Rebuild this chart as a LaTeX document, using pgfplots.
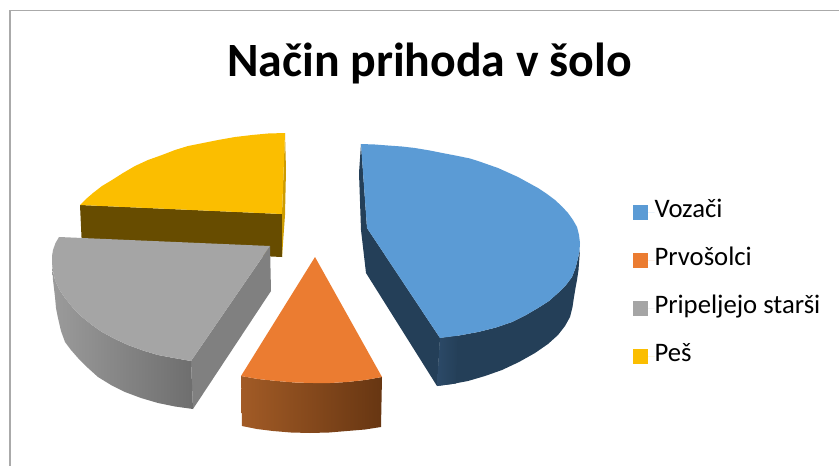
\documentclass[border=0pt]{standalone}
\usepackage{pgfplots}
\pgfplotsset{compat=1.18}
\usepackage{fontspec}
\setmainfont{Carlito}
\definecolor{cblue}{HTML}{5B9BD5}
\definecolor{cblued}{HTML}{243F58}
\definecolor{corange}{HTML}{EB7C31}
\definecolor{cgray}{HTML}{A5A5A5}
\definecolor{cgrayd}{HTML}{808080}
\definecolor{cyellowb}{HTML}{FBBE00}
\definecolor{cyellowd}{HTML}{674C00}
\begin{document}
\begin{tikzpicture}
\begin{axis}[
  width=839pt,height=466pt,scale only axis,
  xmin=0,xmax=839,ymin=0,ymax=466,y dir=reverse,
  hide axis,clip=true,
  legend image code/.code={\fill[#1,draw=none] (0pt,-7.5pt) rectangle (15pt,7.5pt);\path (0pt,0pt) -- (21.5pt,0pt);},
  legend cell align=left,
  legend style={at={(axis cs:633,200)},anchor=north west,draw=none,fill=none,
    font=\fontsize{26.7}{26.7}\selectfont,inner sep=0pt,outer sep=0pt,row sep=24pt,
    nodes={inner sep=0pt,outer sep=0pt,text height=17pt,text depth=7pt}},
]
\path (axis cs:0,0) rectangle (axis cs:839,466);
% frame
\addplot[forget plot,draw={rgb,255:red,170;green,170;blue,170},line width=1.3pt] coordinates {(10,466)(10,10.5)(839,10.5)};
% yellow sides
\addplot[forget plot,fill=cyellowd,draw=none] coordinates {(80,205)(282,214)(282,257)(82,248)} -- cycle;
\addplot[forget plot,fill={rgb,255:red,205;green,155;blue,0},draw=none] coordinates {(285,133)(286,170)(285,215)(282,257)(282,214)} -- cycle;
% blue sides
\addplot[forget plot,fill=cblued,draw=none] coordinates {(361,144)(359,173)(361,230)(366,273)(437,386)(440,338)(367,228)} -- cycle;
\addplot[forget plot,fill=cblued,draw=none] coordinates {(437,386)(452,384)(468,381)(485,376)(502,370)(519,362)(535,353)(548,344)(558,335)(565,326)(570,317)(572.5,307)(574,297)(575.5,288)(577,280)(578.5,270)(580,250)(578,258)(575.5,268)(572,277)(566,285)(558,293)(549,301)(538,308)(526,315)(512,322)(496,327.5)(478,332)(459,335.5)(440,338)} -- cycle;
\addplot[forget plot,left color={rgb,255:red,44;green,74;blue,104},right color=cblued,draw=none] coordinates {(437,386)(456,383.5)(458,335.5)(440,338)} -- cycle;
% blue top
\addplot[fill=cblue,draw=none] coordinates {(361,144)(375,144.5)(388,145.5)(402,146.5)(415,148)(430,150.5)(445,153.5)(458,156)(470,158.5)(478,161)(488,164.5)(498,168)(508,172.5)(518,177)(528,182.5)(538,188)(547,194)(555,200)(562,206.5)(568,213)(573,220)(577,227)(579,235)(580,243)(579.5,251)(578,258)(575.5,268)(572,277)(566,285)(558,293)(549,301)(538,308)(526,315)(512,322)(496,327.5)(478,332)(459,335.5)(440,338)(367,228)} -- cycle;
\addlegendentry{Vozači}
% orange side
\addplot[forget plot,left color={rgb,255:red,162;green,91;blue,38},right color={rgb,255:red,103;green,54;blue,18},draw=none] coordinates {(241,376)(242,426)(257,429)(273,431)(291,432.5)(310,433)(329,432.5)(347,431)(365,429.5)(381,427)(382,377)(365,380)(347,382)(330,383)(313,383)(295,382.5)(277,381)(258,379)} -- cycle;
% orange top
\addplot[fill=corange,draw=none] coordinates {(315,257)(382,377)(365,380)(347,382)(330,383)(313,383)(295,382.5)(277,381)(258,379)(241,376)} -- cycle;
\addlegendentry{Prvošolci}
% gray sides
\addplot[forget plot,fill=cgrayd,draw=none] coordinates {(270,246)(271,291)(193,409)(191,361)} -- cycle;
\addplot[forget plot,left color={rgb,255:red,155;green,155;blue,155},right color={rgb,255:red,110;green,110;blue,110},draw=none] coordinates {(52,263)(53,280)(55,297)(56,308)(58,318)(61,331)(65,342)(71,350)(78,358)(88,368)(98,377)(111,385)(125,392)(141,398)(158,403)(175,406.5)(193,409)(191,361)(174,358)(158,355)(143,350.5)(128,345)(115,339)(102,332)(92,325)(82,317)(73,308)(65,298)(59,289)(55,280)(53,271)} -- cycle;
% gray top
\addplot[fill=cgray,draw=none] coordinates {(59,237)(270,246)(191,361)(174,358)(158,355)(143,350.5)(128,345)(115,339)(102,332)(92,325)(82,317)(73,308)(65,298)(59,289)(55,280)(53,271)(52,263)(52,256)(53,250)(55.5,243)} -- cycle;
\addlegendentry{Pripeljejo starši}
% yellow top
\addplot[fill=cyellowb,draw=none] coordinates {(285,133)(268,133.5)(252,135)(235,137)(218,140)(203,143)(188,146)(175,150)(162,155)(148,160)(135,166)(123,173)(112,180)(102,186)(93,193)(86,199)(80,205)(282,214)} -- cycle;
\addlegendentry{Peš}
% title
\node[anchor=base,font=\fontsize{47.8}{47.8}\selectfont\bfseries,inner sep=0pt] at (axis cs:429.5,76) {Način prihoda v šolo};
\end{axis}
\end{tikzpicture}
\end{document}
